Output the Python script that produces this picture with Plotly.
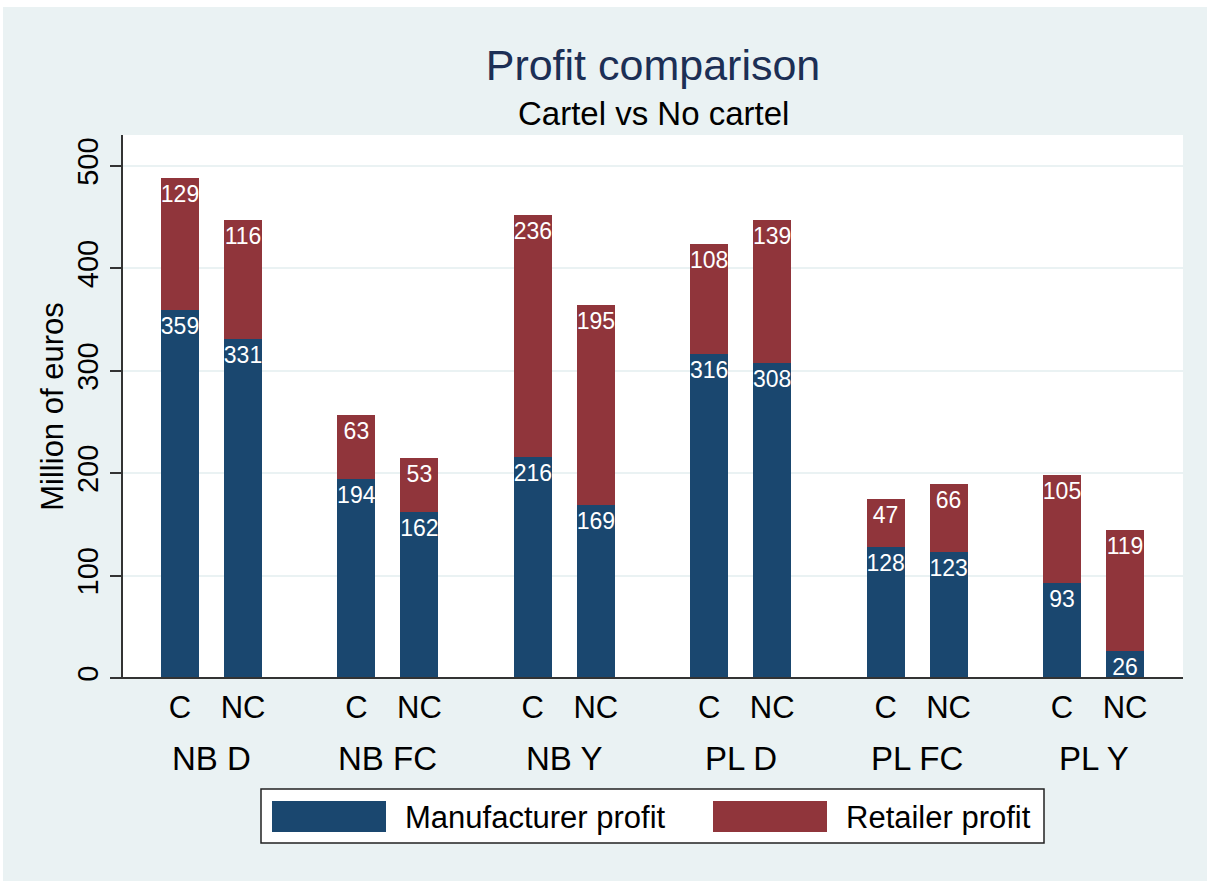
import plotly.graph_objects as go

# ---- data ----
groups = ["NB D", "NB FC", "NB Y", "PL D", "PL FC", "PL Y"]
scenarios = ["C", "NC"]
manufacturer_C = [359, 194, 216, 316, 128, 93]
manufacturer_NC = [331, 162, 169, 308, 123, 26]
retailer_C = [129, 63, 236, 108, 47, 105]
retailer_NC = [116, 53, 195, 139, 66, 119]
y_ticks = [0, 100, 200, 300, 400, 500]

# ---- layout constants ----
W, H = 1207, 881
PL, PR, PT, PB = 123, 1183, 135, 678   # plot area in pixels
GROUP_STEP = 2.8
BAR_W = 0.603
NAVY = "#1a476f"
MAROON = "#90353b"
BG = "#eaf2f3"
FONT = "Arial, Liberation Sans, sans-serif"

def px_x(p):
    return (p - PL) / (PR - PL)

def px_y(p):
    return (PB - p) / (PB - PT)

# positions from indices
xs, ticktext = [], []
for g in range(len(groups)):
    for k, s in enumerate(scenarios):
        xs.append(g * GROUP_STEP + k)
        ticktext.append(s)
manu = [v for pair in zip(manufacturer_C, manufacturer_NC) for v in pair]
reta = [v for pair in zip(retailer_C, retailer_NC) for v in pair]

fig = go.Figure()
fig.add_trace(go.Bar(
    x=xs, y=manu, name="Manufacturer profit", width=BAR_W,
    marker=dict(color=NAVY, line=dict(width=0)),
    text=[str(v) for v in manu], textposition="inside", insidetextanchor="end",
    constraintext="none", textangle=0,
    textfont=dict(color="white", size=23, family=FONT),
    showlegend=False,
))
fig.add_trace(go.Bar(
    x=xs, y=reta, name="Retailer profit", width=BAR_W,
    marker=dict(color=MAROON, line=dict(width=0)),
    text=[str(v) for v in reta], textposition="inside", insidetextanchor="end",
    constraintext="none", textangle=0,
    textfont=dict(color="white", size=23, family=FONT),
    showlegend=False,
))

x_lo = -0.905
x_hi = x_lo + (PR - PL) / 63.0

fig.update_layout(
    width=W, height=H,
    barmode="stack",
    paper_bgcolor=BG, plot_bgcolor="white",
    margin=dict(l=PL, r=W - PR, t=PT, b=H - PB, pad=0),
    font=dict(family=FONT, color="black"),
    title=dict(
        text="Profit comparison",
        font=dict(size=43, color="#1c2f55", family=FONT),
        x=0.5, xref="paper", xanchor="center",
        y=1 - 65 / H, yref="container", yanchor="middle",
    ),
    xaxis=dict(
        range=[x_lo, x_hi], tickmode="array", tickvals=xs, ticktext=ticktext,
        showgrid=False, zeroline=False, showline=False, ticks="",
        tickfont=dict(size=31, color="black"), ticklabelstandoff=8,
    ),
    yaxis=dict(
        range=[0, (PB - PT) / 1.024], tickmode="array", tickvals=y_ticks,
        showgrid=True, gridcolor=BG, gridwidth=2, zeroline=False,
        showline=True, linecolor="#333333", linewidth=2,
        ticks="outside", ticklen=11, tickwidth=2, tickcolor="#333333",
        tickangle=-90, tickfont=dict(size=29, color="black"),
        title=dict(text="Million of euros", font=dict(size=31, color="black"), standoff=0),
    ),
    showlegend=False,
)

shapes = []
# x axis line (extends to the left like the 0 tick)
shapes.append(dict(type="line", xref="paper", yref="paper", x0=px_x(111), x1=1, y0=0, y1=0,
                   line=dict(color="#333333", width=2)))
# white strip at very top / left (page edge)
shapes.append(dict(type="rect", xref="paper", yref="paper", x0=px_x(-5), x1=px_x(W + 5),
                   y0=px_y(7), y1=px_y(-5), fillcolor="white", line=dict(width=0), layer="below"))
shapes.append(dict(type="rect", xref="paper", yref="paper", x0=px_x(-5), x1=px_x(3),
                   y0=px_y(H + 5), y1=px_y(-5), fillcolor="white", line=dict(width=0), layer="below"))
# legend box
shapes.append(dict(type="rect", xref="paper", yref="paper", x0=px_x(261), x1=px_x(1044),
                   y0=px_y(843), y1=px_y(789), fillcolor="white", line=dict(color="#222222", width=1.5)))
shapes.append(dict(type="rect", xref="paper", yref="paper", x0=px_x(272), x1=px_x(386),
                   y0=px_y(832), y1=px_y(801), fillcolor=NAVY, line=dict(width=0)))
shapes.append(dict(type="rect", xref="paper", yref="paper", x0=px_x(713), x1=px_x(827),
                   y0=px_y(832), y1=px_y(801), fillcolor=MAROON, line=dict(width=0)))
fig.update_layout(shapes=shapes)

annotations = []
# subtitle
annotations.append(dict(text="Cartel vs No cartel", xref="paper", yref="paper", x=0.5, y=px_y(113),
                        xanchor="center", yanchor="middle", showarrow=False,
                        font=dict(size=33, color="black", family=FONT)))
# group labels
for g, name in enumerate(groups):
    annotations.append(dict(text=name, xref="x", yref="paper", x=g * GROUP_STEP + 0.5, y=px_y(758),
                            xanchor="center", yanchor="middle", showarrow=False,
                            font=dict(size=33, color="black", family=FONT)))
# legend texts
annotations.append(dict(text="Manufacturer profit", xref="paper", yref="paper", x=px_x(403), y=px_y(817),
                        xanchor="left", yanchor="middle", showarrow=False,
                        font=dict(size=31, color="black", family=FONT)))
annotations.append(dict(text="Retailer profit", xref="paper", yref="paper", x=px_x(844), y=px_y(817),
                        xanchor="left", yanchor="middle", showarrow=False,
                        font=dict(size=31, color="black", family=FONT)))
fig.update_layout(annotations=annotations)

fig.write_html("out.html", config={"displayModeBar": False},
               post_script="document.body.style.margin='0px';document.body.style.overflow='hidden';")
